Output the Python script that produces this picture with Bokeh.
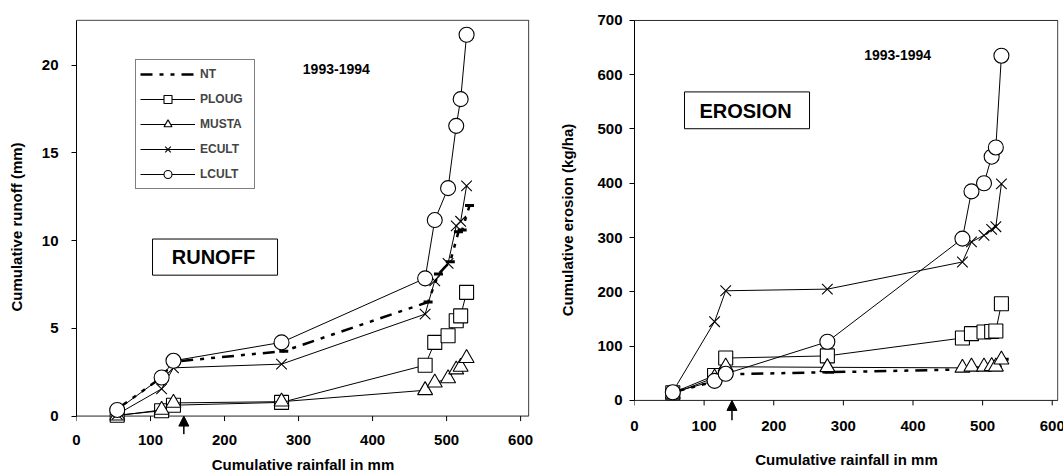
from bokeh.plotting import figure
from bokeh.layouts import row
from bokeh.models import (Range1d, FixedTicker, Legend, LegendItem, Label,
                          BoxAnnotation, Arrow, NormalHead)
from bokeh.embed import file_html
from bokeh.resources import INLINE

# ---------------- data ----------------
series_names = ["NT", "PLOUG", "MUSTA", "ECULT", "LCULT"]
rain = [55, 115, 131, 277, 471, 484, 502, 513, 519, 527]
rain_nt = [55, 115, 131, 280, 475, 489, 505, 516, 521, 531]

runoff_nt = [0.4, 2.2, 3.1, 3.7, 6.5, 8.1, 8.8, 10.5, 10.6, 12.0]
runoff_ploug = [0.05, 0.3, 0.62, 0.78, 2.9, 4.2, 4.58, 5.43, 5.71, 7.05]
runoff_musta = [0.02, 0.35, 0.75, 0.82, 1.47, 1.9, 2.15, 2.65, 2.8, 3.3]
runoff_ecult = [0.1, 1.55, 2.75, 2.96, 5.81, 7.71, 8.7, 10.84, 11.1, 13.12]
runoff_lcult = [0.35, 2.2, 3.15, 4.2, 7.85, 11.17, 12.99, 16.54, 18.06, 21.73]

erosion_nt = [15, 35, 48, 52, 57, 58, 59, 60, 62, 76]
erosion_ploug = [14, 46, 78, 82, 115, 123, 126, 127, 128, 178]
erosion_musta = [12, 42, 62, 61, 60, 62, 62, 63, 62, 75]
erosion_ecult = [16, 145, 202, 205, 255, 292, 304, 315, 320, 399]
erosion_lcult = [15, 36, 49, 108, 298, 385, 400, 449, 466, 635]

x_ticks = [0, 100, 200, 300, 400, 500, 600]
runoff_ticks = [0, 5, 10, 15, 20]
erosion_ticks = [0, 100, 200, 300, 400, 500, 600, 700]

runoff_top = 22.56
erosion_top = 700
arrow_x_runoff = 145
arrow_x_erosion = 140

FONT = "Liberation Sans"
TICK_PX = 5


def style_axes(p, xlabel, ylabel, x_std, y_std, xt_std, yt_std, yticks, ybounds):
    p.xaxis.ticker = FixedTicker(ticks=x_ticks)
    p.yaxis.ticker = FixedTicker(ticks=yticks)
    p.grid.visible = False
    for ax in (p.xaxis[0], p.yaxis[0]):
        ax.axis_line_color = "black"
        ax.major_tick_line_color = "black"
        ax.major_tick_in = 0
        ax.major_tick_out = TICK_PX
        ax.minor_tick_line_color = None
        ax.minor_tick_in = 0
        ax.minor_tick_out = 0
        ax.major_label_text_font = FONT
        ax.major_label_text_font_style = "bold"
        ax.major_label_text_font_size = "15px"
        ax.major_label_text_color = "black"
        ax.axis_label_text_font = FONT
        ax.axis_label_text_font_style = "bold"
        ax.axis_label_text_font_size = "15px"
        ax.axis_label_text_color = "black"
    # the x axis sits under an extended frame (room for the arrow); the zero line
    # and its tick marks are drawn inside the frame
    p.xaxis.axis_line_color = None
    p.xaxis.major_tick_line_color = None
    p.xaxis.major_tick_out = 0
    p.yaxis.bounds = ybounds
    p.xaxis.axis_label = xlabel
    p.yaxis.axis_label = ylabel
    p.xaxis.axis_label_standoff = x_std
    p.yaxis.axis_label_standoff = y_std
    p.xaxis.major_label_standoff = xt_std
    p.yaxis.major_label_standoff = yt_std
    p.outline_line_color = None


def add_frame(p, right, top, px_per_unit):
    p.add_layout(BoxAnnotation(left=0, right=right, bottom=0, top=top,
                               fill_alpha=0, line_color="#222222", line_width=1,
                               line_alpha=1, level="underlay"))
    n = len(x_ticks)
    p.segment(x0=x_ticks, y0=[0] * n, x1=x_ticks, y1=[-TICK_PX / px_per_unit] * n,
              line_color="black", line_width=1)


def add_series(p, ys):
    nt, ploug, musta, ecult, lcult = ys
    r = {}
    r["NT_line"] = p.line(rain_nt, nt, line_color="black", line_width=2.5,
                          line_dash="12 7 4 7 4 7")
    p.scatter(rain_nt, nt, marker="dash", size=9, line_color="black", line_width=3)
    specs = [("PLOUG", ploug, "square", 14), ("MUSTA", musta, "triangle", 15),
             ("ECULT", ecult, "x", 15), ("LCULT", lcult, "circle", 15)]
    for name, vals, mk, sz in specs:
        r[name + "_line"] = p.line(rain, vals, line_color="black", line_width=1)
        r[name + "_pt"] = p.scatter(rain, vals, marker=mk, size=sz, line_color="black",
                                    fill_color="white", line_width=1.1)
    return r


def add_arrow(p, x, shaft_len):
    p.add_layout(Arrow(end=NormalHead(size=10, fill_color="black", line_color="black",
                                      line_width=1),
                       x_start=x, y_start=-shaft_len, x_end=x, y_end=0,
                       line_color="black", line_width=1.5))


# ---------------- left: runoff ----------------
p1 = figure(output_backend="svg", toolbar_location=None,
            frame_width=453, frame_height=415,
            min_border_left=76, min_border_right=27, min_border_top=16, min_border_bottom=45,
            x_range=Range1d(0, 612), y_range=Range1d(-1.05, 22.6))
style_axes(p1, "Cumulative rainfall in mm", "Cumulative runoff (mm)",
           8, 14, 0, 13, runoff_ticks, (0, runoff_top))
add_frame(p1, 611, runoff_top, 415 / 23.65)
r1 = add_series(p1, [runoff_nt, runoff_ploug, runoff_musta, runoff_ecult, runoff_lcult])

legend = Legend(items=[
    LegendItem(label="NT", renderers=[r1["NT_line"]]),
    LegendItem(label="PLOUG", renderers=[r1["PLOUG_line"], r1["PLOUG_pt"]]),
    LegendItem(label="MUSTA", renderers=[r1["MUSTA_line"], r1["MUSTA_pt"]]),
    LegendItem(label="ECULT", renderers=[r1["ECULT_line"], r1["ECULT_pt"]]),
    LegendItem(label="LCULT", renderers=[r1["LCULT_line"], r1["LCULT_pt"]]),
], location=(59, 245), border_line_color="black", border_line_width=1,
    background_fill_color="white", background_fill_alpha=1,
    padding=4, spacing=5, glyph_width=55, glyph_height=20, label_height=20,
    label_width=50, label_standoff=5, margin=0,
    label_text_font=FONT, label_text_font_style="bold", label_text_font_size="12px")
p1.add_layout(legend)

p1.add_layout(Label(x=351, y=19.77, text="1993-1994", text_align="center",
                    text_baseline="middle", text_font=FONT, text_font_style="bold",
                    text_font_size="14px", text_color="black"))
p1.add_layout(BoxAnnotation(left=102.7, right=271.6, bottom=8.03, top=10.09,
                            fill_color="white", fill_alpha=1, line_color="black",
                            line_width=1, line_alpha=1))
p1.add_layout(Label(x=185, y=9.09, text="RUNOFF", text_align="center",
                    text_baseline="middle", text_font=FONT, text_font_style="bold",
                    text_font_size="20px", text_color="black"))
add_arrow(p1, arrow_x_runoff, 1.03)

# ---------------- right: erosion ----------------
p2 = figure(output_backend="svg", toolbar_location=None,
            frame_width=424, frame_height=401,
            min_border_left=75, min_border_right=8, min_border_top=19, min_border_bottom=56,
            x_range=Range1d(0, 609), y_range=Range1d(-37, 701.7))
style_axes(p2, "Cumulative rainfall in mm", "Cumulative erosion (kg/ha)",
           17, 18, 0, 7, erosion_ticks, (0, erosion_top))
add_frame(p2, 608, erosion_top, 401 / 738.7)
add_series(p2, [erosion_nt, erosion_ploug, erosion_musta, erosion_ecult, erosion_lcult])

p2.add_layout(Label(x=378, y=637, text="1993-1994", text_align="center",
                    text_baseline="middle", text_font=FONT, text_font_style="bold",
                    text_font_size="14px", text_color="black"))
p2.add_layout(BoxAnnotation(left=71.8, right=251.4, bottom=500.5, top=568.3,
                            fill_color="white", fill_alpha=1, line_color="black",
                            line_width=1, line_alpha=1))
p2.add_layout(Label(x=159.5, y=534, text="EROSION", text_align="center",
                    text_baseline="middle", text_font=FONT, text_font_style="bold",
                    text_font_size="20px", text_color="black"))
add_arrow(p2, arrow_x_erosion, 37)

layout = row(p1, p2)
open("out.html", "w").write(file_html(layout, INLINE))
